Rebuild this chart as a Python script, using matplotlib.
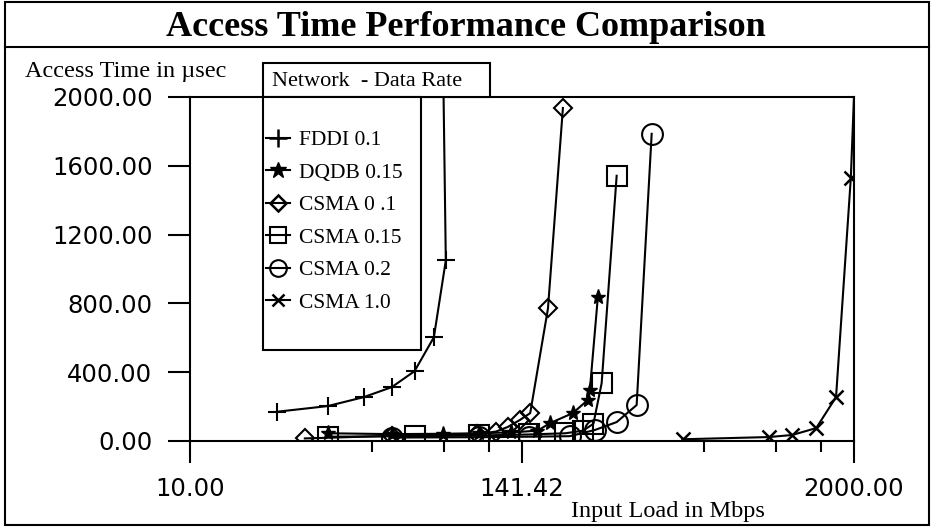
import matplotlib.pyplot as plt
from matplotlib.lines import Line2D
from matplotlib.patches import Rectangle
from matplotlib.ticker import NullFormatter

# input load (Mbps) / access time (usec)
fddi_x = [20, 30, 40, 50, 60, 70, 77, 75.5]
fddi_y = [170, 203, 255, 313, 406, 603, 1050, 2100]

dqdb_x = [30, 50, 75, 100, 130, 160, 177, 212, 239, 243, 259]
dqdb_y = [45, 40, 42, 45, 50, 60, 104, 162, 238, 296, 835]

csma01_x = [25, 50, 99, 115, 126, 139, 151, 174, 196]
csma01_y = [15, 30, 40, 55, 81, 122, 162, 771, 1936]

csma015_x = [30, 60, 100, 150, 200, 230, 250, 267, 301]
csma015_y = [25, 28, 32, 38, 45, 60, 100, 336, 1542]

csma02_x = [50, 100, 150, 207, 253, 301, 353, 398]
csma02_y = [20, 22, 25, 28, 64, 110, 209, 1786]

csma10_x = [509, 1017, 1222, 1479, 1733, 1950, 2010]
csma10_y = [10, 23, 35, 75, 255, 1530, 2100]

labels = ["FDDI 0.1", "DQDB 0.15", "CSMA 0 .1", "CSMA 0.15", "CSMA 0.2", "CSMA 1.0"]

x_ticks = [10, 141.42, 2000]
x_minor = [42.86, 75.71, 108.57, 606.07, 1070.71, 1535.36]
y_ticks = [0, 400, 800, 1200, 1600, 2000]

W, H = 932, 527


def fx(px):
    return px / W


def fy(py):
    return 1 - py / H


fig = plt.figure(figsize=(9.32, 5.27), dpi=100)
ax = fig.add_axes([fx(190), fy(441), fx(854) - fx(190), fy(97) - fy(441)])

lw = 1.5
ax.plot(fddi_x, fddi_y, color="black", lw=lw, marker="+", ms=13, mew=1.5)
ax.plot(dqdb_x, dqdb_y, color="black", lw=lw, marker="*", ms=11)
ax.plot(csma01_x, csma01_y, color="black", lw=lw, marker="D", ms=9, mfc="none", mew=1.5)
ax.plot(csma015_x, csma015_y, color="black", lw=lw, marker="s", ms=15, mfc="none", mew=1.5)
ax.plot(csma02_x, csma02_y, color="black", lw=lw, marker="o", ms=15, mfc="none", mew=1.5)
ax.plot(csma10_x, csma10_y, color="black", lw=lw, marker="x", ms=10, mew=1.8)

ax.set_xscale("log")
ax.set_xlim(10, 2000)
ax.set_ylim(0, 2000)
ax.set_xticks(x_ticks, labels=[f"{v:.2f}" for v in x_ticks])
ax.set_xticks(x_minor, minor=True)
ax.xaxis.set_minor_formatter(NullFormatter())
ax.set_yticks(y_ticks, labels=[f"{v:.2f}" for v in y_ticks])
ax.yaxis.set_minor_locator(plt.NullLocator())

for lab in ax.get_xticklabels() + ax.get_yticklabels():
    lab.set_fontfamily("DejaVu Sans")
    lab.set_fontsize(17.5)

ax.tick_params(axis="x", which="major", direction="out", length=16, width=1.5, pad=10)
ax.tick_params(axis="x", which="minor", direction="out", length=8, width=1.5)
ax.tick_params(axis="y", direction="out", length=16, width=1.5, pad=11)
for s in ax.spines.values():
    s.set_linewidth(1.5)

serif = "Liberation Serif"

# outer frame and title bar
fig.add_artist(Rectangle((fx(5), fy(525)), fx(929) - fx(5), fy(2) - fy(525),
                         transform=fig.transFigure, fill=False, ec="black", lw=1.5))
fig.add_artist(Line2D([fx(5), fx(929)], [fy(47), fy(47)], transform=fig.transFigure,
                      color="black", lw=1.5))
fig.text(0.5, fy(27), "Access Time Performance Comparison", ha="center", va="center",
         fontsize=26, fontweight="bold", family=serif)
fig.text(fx(25), fy(72), "Access Time in µsec", ha="left", va="center",
         fontsize=17.5, family=serif)
fig.text(fx(668), fy(512), "Input Load in Mbps", ha="center", va="center",
         fontsize=17.5, family=serif)

# legend: header box + body box
fig.add_artist(Rectangle((fx(263), fy(97)), fx(490) - fx(263), fy(63) - fy(97),
                         transform=fig.transFigure, fc="white", ec="black", lw=1.5, zorder=3))
fig.text(fx(272), fy(81), "Network  - Data Rate", ha="left", va="center",
         fontsize=16, family=serif, zorder=4)
fig.add_artist(Rectangle((fx(263), fy(350)), fx(421) - fx(263), fy(97) - fy(350),
                         transform=fig.transFigure, fc="white", ec="black", lw=1.5, zorder=3))

handles = [
    Line2D([], [], color="black", lw=lw, marker="+", ms=13, mew=1.8),
    Line2D([], [], color="black", lw=lw, marker="*", ms=12),
    Line2D([], [], color="black", lw=lw, marker="D", ms=8, mfc="none", mew=1.8),
    Line2D([], [], color="black", lw=lw, marker="s", ms=12, mfc="none", mew=1.5),
    Line2D([], [], color="black", lw=lw, marker="o", ms=12, mfc="none", mew=1.5),
    Line2D([], [], color="black", lw=lw, marker="x", ms=9, mew=1.8),
]
fig.legend(handles, labels, loc="upper left", bbox_to_anchor=(fx(266), fy(130)),
           frameon=False, prop={"family": serif, "size": 15.5},
           handlelength=1.1, handletextpad=0.45, labelspacing=0.58,
           borderpad=0, borderaxespad=0)

fig.savefig("out.png", dpi=100)
